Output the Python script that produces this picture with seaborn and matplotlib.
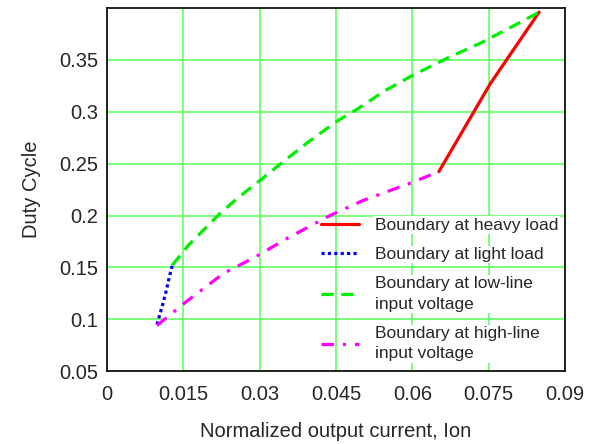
import matplotlib
import seaborn as sns
import pandas as pd

matplotlib.use("Agg")
import matplotlib.pyplot as plt

# Values
heavy_x = [0.0652, 0.0753, 0.0849]
heavy_y = [0.2423, 0.327, 0.396]

light_x = [0.0098, 0.0108, 0.0116, 0.0122, 0.0128]
light_y = [0.095, 0.112, 0.127, 0.140, 0.152]

lowline_x = [0.0128, 0.0159, 0.0224, 0.0257, 0.0301, 0.0344, 0.0393, 0.0452,
             0.0493, 0.0545, 0.0600, 0.0670, 0.0733, 0.0792, 0.0849]
lowline_y = [0.152, 0.171, 0.203, 0.217, 0.234, 0.251, 0.270, 0.291,
             0.303, 0.320, 0.335, 0.352, 0.366, 0.381, 0.396]

highline_x = [0.0098, 0.0153, 0.0228, 0.0291, 0.0354, 0.0438, 0.0503, 0.0600, 0.0652]
highline_y = [0.094, 0.116, 0.144, 0.160, 0.178, 0.200, 0.2145, 0.232, 0.2423]

x_ticks = [0, 0.015, 0.03, 0.045, 0.06, 0.075, 0.09]
x_tick_labels = ["0", "0.015", "0.03", "0.045", "0.06", "0.075", "0.09"]
y_ticks = [0.05, 0.1, 0.15, 0.2, 0.25, 0.3, 0.35]
y_tick_labels = ["0.05", "0.1", "0.15", "0.2", "0.25", "0.3", "0.35"]

labels = ["Boundary at heavy load", "Boundary at light load",
          "Boundary at low-line\ninput voltage",
          "Boundary at high-line\ninput voltage"]

sns.set_theme(style="white")
plt.rcParams["font.family"] = ["Liberation Sans", "DejaVu Sans"]

fig = plt.figure(figsize=(6.05, 4.44), dpi=100)
ax = fig.add_axes([0.177, 0.164, 0.757, 0.818])

lw = 2.3
series = [
    (heavy_x, heavy_y, "#ff0000", "-"),
    (light_x, light_y, "#0000ff", (0, (1.0, 1.0))),
    (lowline_x, lowline_y, "#00ee00", (0, (3.8, 2.4))),
    (highline_x, highline_y, "#ff00ff", (0, (3.9, 2.8, 1.0, 2.8))),
]
for (xs, ys, color, ls), label in zip(series, labels):
    df = pd.DataFrame({"x": xs, "y": ys})
    sns.lineplot(data=df, x="x", y="y", ax=ax, color=color, linewidth=lw,
                 linestyle=ls, sort=False, label=label)

ax.set_xlim(0, 0.09)
ax.set_ylim(0.05, 0.4)
ax.set_xticks(x_ticks)
ax.set_xticklabels(x_tick_labels)
ax.set_yticks(y_ticks)
ax.set_yticklabels(y_tick_labels)
ax.tick_params(labelsize=14.5, length=0)
ax.tick_params(axis="x", pad=10)
ax.tick_params(axis="y", pad=6.5)
ax.grid(True, color="#55ff55", linewidth=1.1)
ax.set_axisbelow(True)
for sp in ax.spines.values():
    sp.set_color("black")
    sp.set_linewidth(1.2)

ax.set_xlabel("Normalized output current, Ion", fontsize=14.5, labelpad=13)
ax.set_ylabel("Duty Cycle", fontsize=14.5, labelpad=13)

leg = ax.legend(loc="lower right", bbox_to_anchor=(1.0, 0.008), frameon=False,
                fontsize=12.5, handlelength=2.2, handletextpad=0.9,
                labelspacing=0.82, borderpad=0.2, borderaxespad=0.2)
for t in leg.get_texts():
    t.set_linespacing(1.45)
    t.set_bbox(dict(facecolor="white", edgecolor="none", pad=1))

fig.savefig("out.png", dpi=100)
